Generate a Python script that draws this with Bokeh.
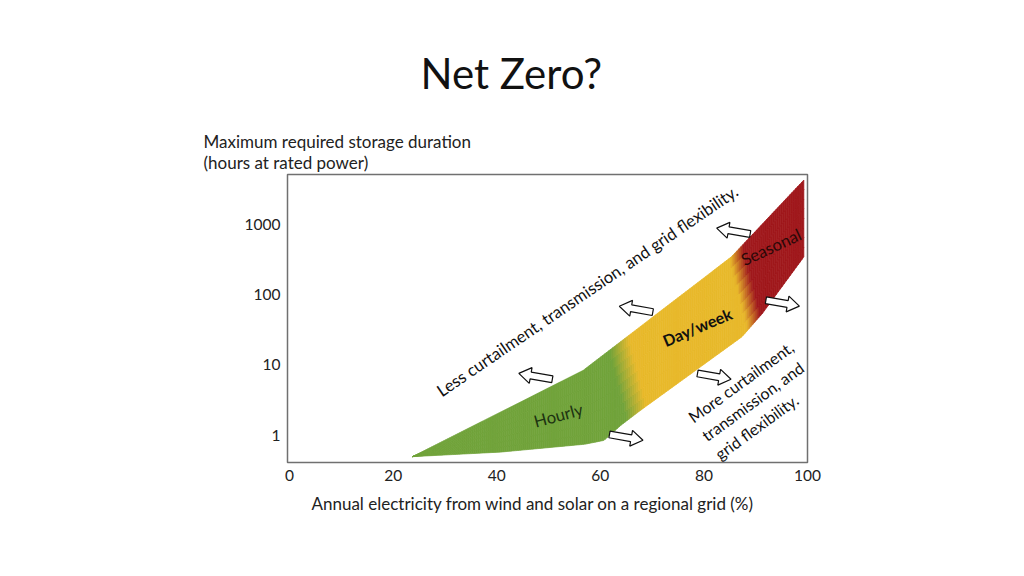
import numpy as np
from bokeh.plotting import figure
from bokeh.models import Range1d, FixedTicker, ColumnDataSource, Title
from bokeh.embed import file_html
from bokeh.resources import INLINE
from bokeh.core.properties import value

# ---------------- data ----------------
title_text = "Net Zero?"
x_label = "Annual electricity from wind and solar on a regional grid (%)"
y_label_lines = ["Maximum required storage duration", "(hours at rated power)"]
x_ticks = [0, 20, 40, 60, 80, 100]
y_ticks = [1, 10, 100, 1000]
y_tick_labels = ["1", "10", "100", "1000"]

# upper / lower envelope of the storage-duration band
upper_x = [23.7, 56.7, 85.3, 99.3]
upper_y = [0.50, 8.4, 343, 4225]
lower_x = [23.7, 40.7, 57.0, 60.7, 64.0, 67.5, 87.3, 91.3, 99.3]
lower_y = [0.50, 0.58, 0.75, 0.85, 1.4, 2.2, 25, 54, 343]

zone_names = ["Hourly", "Day/week", "Seasonal"]
zone_colors = ["#71a33b", "#e8b92b", "#a0191c"]
zone_blend_centers = [68.2, 95.4]
zone_blend_widths = [4.5, 3.2]
zone_slant = 3.5  # x-units per decade of tilt of colour boundaries

zone_label_x = [51.9, 78.7, 93.0]
zone_label_y = [1.92, 34.7, 468]
zone_label_angle = [15, 23, 25]

less_text = "Less curtailment, transmission, and grid flexibility."
less_x, less_y, less_angle = 57.5, 112, 34.3
more_text = "More curtailment,\ntransmission, and\ngrid flexibility."
more_x, more_y, more_angle = 79.9, 0.95, 36

arrow_x = [47.5, 66.9, 85.7, 65.0, 82.0, 95.2]
arrow_y = [6.9, 62, 796, 0.94, 6.9, 75.5]
arrow_dir = [-1, -1, -1, 1, 1, 1]

# ---------------- figure ----------------
FONT = "Lato"
W, H = 1008, 560
b_left, b_right, b_top, b_bottom = 287, 201, 174, 98
x_start, x_end = -0.4, 100
y_start, y_end = 0.413, 5058

p = figure(width=W, height=H, output_backend="svg", toolbar_location=None,
           x_range=Range1d(x_start, x_end), y_range=Range1d(y_start, y_end),
           y_axis_type="log",
           min_border_left=b_left, min_border_right=b_right,
           min_border_top=b_top, min_border_bottom=b_bottom)
p.title.visible = False
p.grid.visible = False
p.outline_line_color = "#707070"
p.outline_line_width = 1.5
p.background_fill_color = "white"
p.border_fill_color = "white"

frame_w = W - b_left - b_right
frame_h = H - b_top - b_bottom
px_per_x = frame_w / (x_end - x_start)
px_per_dec = frame_h / (np.log10(y_end) - np.log10(y_start))

for ax in (p.xaxis[0], p.yaxis[0]):
    ax.axis_line_color = None
    ax.major_tick_line_color = None
    ax.minor_tick_line_color = None
    ax.major_tick_in = 0
    ax.major_tick_out = 0
    ax.minor_tick_in = 0
    ax.minor_tick_out = 0
    ax.major_label_text_font = FONT
    ax.major_label_text_font_size = "15.5px"
    ax.major_label_text_color = "#222222"
p.xaxis.ticker = FixedTicker(ticks=x_ticks)
p.xaxis.major_label_standoff = 7
p.yaxis.ticker = FixedTicker(ticks=y_ticks)
p.yaxis.major_label_overrides = {t: s for t, s in zip(y_ticks, y_tick_labels)}
p.yaxis.major_label_standoff = 7


# ---------------- gradient band ----------------
def mix(c1, c2, t):
    a = np.array([int(c1[i:i + 2], 16) for i in (1, 3, 5)], float)
    b = np.array([int(c2[i:i + 2], 16) for i in (1, 3, 5)], float)
    c = a + (b - a) * t
    return "#%02x%02x%02x" % tuple(int(round(v)) for v in c)


def zone_color(xe):
    c0 = zone_blend_centers[0]; w0 = zone_blend_widths[0]
    c1 = zone_blend_centers[1]; w1 = zone_blend_widths[1]
    if xe < c0 - w0 / 2:
        return zone_colors[0]
    if xe < c0 + w0 / 2:
        return mix(zone_colors[0], zone_colors[1], (xe - (c0 - w0 / 2)) / w0)
    if xe < c1 - w1 / 2:
        return zone_colors[1]
    if xe < c1 + w1 / 2:
        return mix(zone_colors[1], zone_colors[2], (xe - (c1 - w1 / 2)) / w1)
    return zone_colors[2]


cols = np.linspace(upper_x[0], upper_x[-1], 200)
lu = np.interp(cols, upper_x, np.log10(upper_y))
ll = np.interp(cols, lower_x, np.log10(lower_y))
nrows = 8
xs, ys, fc = [], [], []
for i in range(len(cols) - 1):
    for j in range(nrows):
        t0, t1 = j / nrows, (j + 1) / nrows
        a0 = ll[i] + t0 * (lu[i] - ll[i]); a1 = ll[i] + t1 * (lu[i] - ll[i])
        b0 = ll[i + 1] + t0 * (lu[i + 1] - ll[i + 1]); b1 = ll[i + 1] + t1 * (lu[i + 1] - ll[i + 1])
        xs.append([cols[i], cols[i + 1], cols[i + 1], cols[i]])
        ys.append([10 ** a0, 10 ** b0, 10 ** b1, 10 ** a1])
        xc = 0.5 * (cols[i] + cols[i + 1])
        lc = 0.25 * (a0 + a1 + b0 + b1)
        fc.append(zone_color(xc + zone_slant * lc))
band = ColumnDataSource(dict(xs=xs, ys=ys, c=fc))
p.patches("xs", "ys", source=band, fill_color="c", line_color="c", line_width=0.7)

# ---------------- hollow arrows ----------------
tmpl = np.array([(-17, 3.4), (5, 3.4), (5, 8), (17, 0), (5, -8), (5, -3.4), (-17, -3.4)])
th = np.deg2rad(-10)
axs, ays = [], []
for x0, y0, d in zip(arrow_x, arrow_y, arrow_dir):
    pts = tmpl.copy()
    pts[:, 0] *= d
    rx = pts[:, 0] * np.cos(th) - pts[:, 1] * np.sin(th)
    ry = pts[:, 0] * np.sin(th) + pts[:, 1] * np.cos(th)
    axs.append(list(x0 + rx / px_per_x))
    ays.append(list(y0 * 10 ** (ry / px_per_dec)))
p.patches(axs, ays, fill_color="white", line_color="#111111", line_width=1.2)

# ---------------- texts on the chart ----------------
p.text(x=zone_label_x[:1], y=zone_label_y[:1], text=zone_names[:1], angle=zone_label_angle[:1],
       angle_units="deg", text_align="center", text_baseline="middle",
       text_font=value(FONT), text_font_size="16.7px", text_color="#1d3311")
p.text(x=zone_label_x[1:2], y=zone_label_y[1:2], text=zone_names[1:2], angle=zone_label_angle[1:2],
       angle_units="deg", text_align="center", text_baseline="middle",
       text_font=value(FONT), text_font_size="16px", text_font_style="bold", text_color="#111111")
p.text(x=zone_label_x[2:], y=zone_label_y[2:], text=zone_names[2:], angle=zone_label_angle[2:],
       angle_units="deg", text_align="center", text_baseline="middle",
       text_font=value(FONT), text_font_size="16.7px", text_color="#2a0808")
p.text(x=[less_x], y=[less_y], text=[less_text], angle=less_angle, angle_units="deg",
       text_align="center", text_baseline="middle",
       text_font=value(FONT), text_font_size="16.7px", text_color="#111111")
p.text(x=[more_x], y=[more_y], text=[more_text], angle=more_angle, angle_units="deg",
       text_align="left", text_baseline="middle", text_line_height=1.2,
       text_font=value(FONT), text_font_size="16px", text_color="#111111")

# ---------------- titles / axis labels as side panels ----------------
t_a = Title(text=y_label_lines[1], align="left", offset=-84, vertical_align="top", standoff=0,
            text_font=FONT, text_font_size="17px", text_font_style="normal", text_color="#222222")
t_b = Title(text=y_label_lines[0], align="left", offset=-84, vertical_align="bottom", standoff=0,
            text_font=FONT, text_font_size="17px", text_font_style="normal", text_color="#222222")
t_c = Title(text=title_text, align="left", offset=133, vertical_align="bottom", standoff=62,
            text_font=FONT, text_font_size="42px", text_font_style="normal", text_color="#111111")
p.add_layout(t_a, "above")
p.add_layout(t_b, "above")
p.add_layout(t_c, "above")
t_x = Title(text=x_label, align="left", offset=24, vertical_align="top", standoff=19,
            text_font=FONT, text_font_size="17px", text_font_style="normal", text_color="#222222")
p.add_layout(t_x, "below")

open("out.html", "w").write(file_html(p, INLINE))
